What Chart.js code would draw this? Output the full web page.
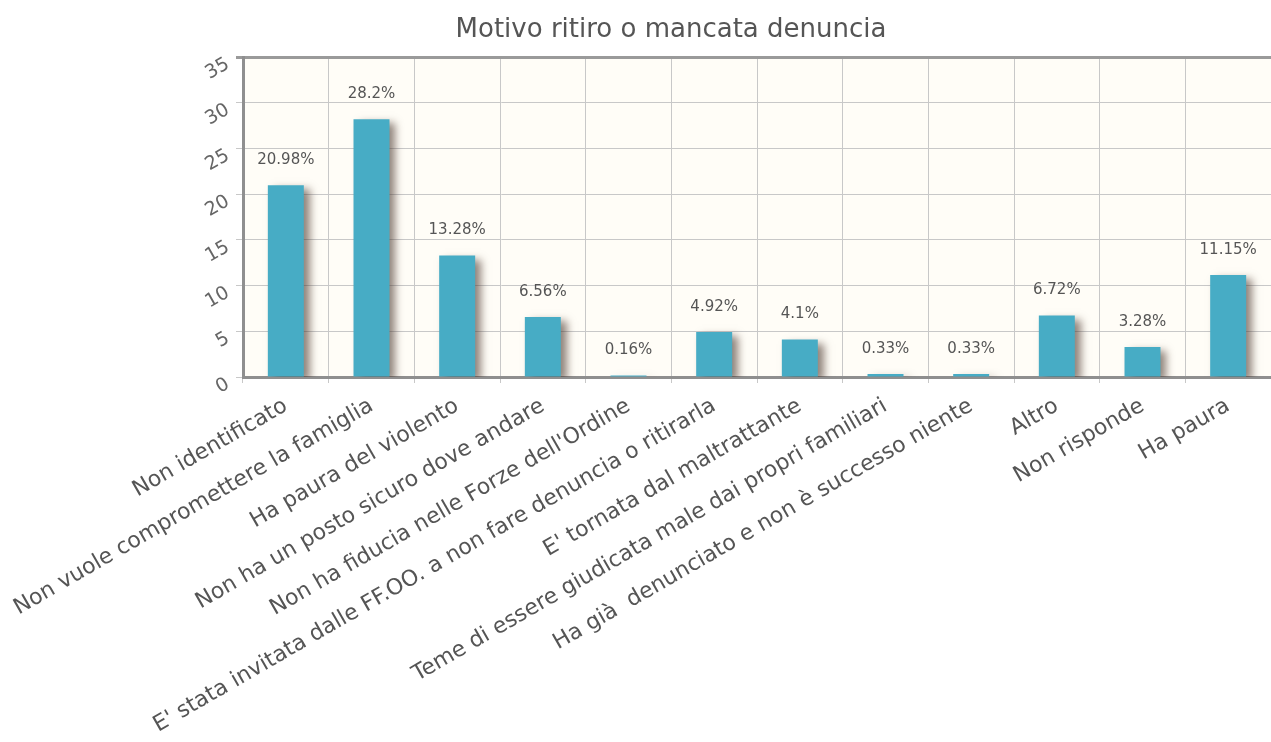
<!DOCTYPE html>
<html>
<head>
<meta charset="utf-8">
<script src="https://cdn.jsdelivr.net/npm/chart.js@4/dist/chart.umd.min.js"></script>
<style>
  html, body { margin: 0; padding: 0; background: #fff; }
  #wrap { width: 1271px; height: 742px; }
</style>
</head>
<body>
<div id="wrap"><canvas id="barChart" width="1271" height="742"></canvas></div>
<script>
const categories = [
  "Non identificato",
  "Non vuole compromettere la famiglia",
  "Ha paura del violento",
  "Non ha un posto sicuro dove andare",
  "Non ha fiducia nelle Forze dell'Ordine",
  "E' stata invitata dalle FF.OO. a non fare denuncia o ritirarla",
  "E' tornata dal maltrattante",
  "Teme di essere giudicata male dai propri familiari",
  "Ha già  denunciato e non è successo niente",
  "Altro",
  "Non risponde",
  "Ha paura"
];
const percentages = [20.98, 28.2, 13.28, 6.56, 0.16, 4.92, 4.1, 0.33, 0.33, 6.72, 3.28, 11.15];
const yTicks = [0, 5, 10, 15, 20, 25, 30, 35];
const chartTitle = "Motivo ritiro o mancata denuncia";

const FONT = "'DejaVu Sans', Verdana, sans-serif";

// cream plot background plus the title line above it
const plotBackground = {
  id: "plotBackground",
  beforeDraw(chart) {
    const { ctx, chartArea: a } = chart;
    ctx.save();
    ctx.fillStyle = "#fffdf7";
    ctx.fillRect(a.left, a.top, a.right - a.left, a.bottom - a.top);
    ctx.font = "26px " + FONT;
    ctx.fillStyle = "#555";
    ctx.textAlign = "center";
    ctx.textBaseline = "middle";
    ctx.fillText(chartTitle, 671, 30);
    ctx.restore();
  }
};

// drop shadow behind every bar
const barShadow = {
  id: "barShadow",
  beforeDatasetsDraw(chart) {
    const ctx = chart.ctx;
    ctx.save();
    ctx.shadowColor = "rgba(70, 50, 40, 0.6)";
    ctx.shadowOffsetX = 6;
    ctx.shadowOffsetY = 4;
    ctx.shadowBlur = 8;
  },
  afterDatasetsDraw(chart) {
    chart.ctx.restore();
  }
};

// percentage text above each bar
const valueLabels = {
  id: "valueLabels",
  afterDatasetsDraw(chart) {
    const ctx = chart.ctx;
    const meta = chart.getDatasetMeta(0);
    ctx.save();
    ctx.font = "15px " + FONT;
    ctx.fillStyle = "#555";
    ctx.textAlign = "center";
    ctx.textBaseline = "middle";
    meta.data.forEach((bar, i) => {
      ctx.fillText(percentages[i] + "%", bar.x, bar.y - 25);
    });
    ctx.restore();
  }
};

new Chart(document.getElementById("barChart"), {
  type: "bar",
  data: {
    labels: categories,
    datasets: [{
      data: percentages,
      backgroundColor: "#47acc5",
      borderWidth: 0,
      categoryPercentage: 1,
      barPercentage: 0.42
    }]
  },
  options: {
    responsive: false,
    animation: false,
    layout: { padding: { left: 0, right: 0, top: 57, bottom: 0 } },
    plugins: {
      legend: { display: false },
      tooltip: { enabled: false },
      title: { display: false }
    },
    scales: {
      x: {
        grid: {
          color: "#c8c8c8",
          lineWidth: 1,
          tickLength: 6,
          offset: true
        },
        border: { color: "#8f8f8f", width: 3 },
        ticks: {
          color: "#555",
          font: { family: FONT, size: 22 },
          minRotation: 30,
          maxRotation: 30,
          autoSkip: false,
          padding: 10
        },
        afterFit(scale) { scale.height = 365; }
      },
      y: {
        min: 0,
        max: 35,
        afterBuildTicks(scale) { scale.ticks = yTicks.map(v => ({ value: v })); },
        grid: {
          color: ctx => (ctx.tick && ctx.tick.value === 35 ? "#9a9a9a" : "#c8c8c8"),
          lineWidth: ctx => (ctx.tick && ctx.tick.value === 35 ? 3 : 1),
          tickLength: 7
        },
        border: { color: "#8f8f8f", width: 3 },
        ticks: {
          color: "#666",
          font: { family: FONT, size: 19 },
          minRotation: 30,
          maxRotation: 30,
          labelOffset: 6,
          padding: 8
        },
        afterFit(scale) { scale.width = 243; }
      }
    }
  },
  plugins: [plotBackground, barShadow, valueLabels]
});
</script>
</body>
</html>
